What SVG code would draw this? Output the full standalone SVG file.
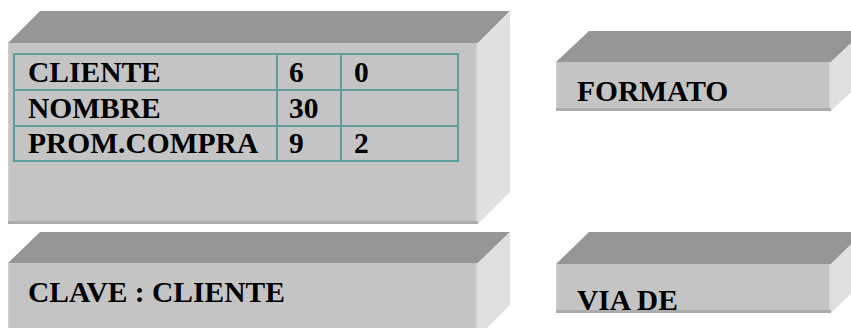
<svg xmlns="http://www.w3.org/2000/svg" width="851" height="328" viewBox="0 0 851 328">
<style>
.top{fill:#969696}
.front{fill:#c4c4c4}
.side{fill:#e0e0e0}
.hl{fill:#d8d8d8}
.sh{fill:#acacac}
.edge{fill:#cdcdcd}
.grid{fill:none;stroke:#5f9c9c;stroke-width:2}
.t{font-family:"Liberation Serif","Times New Roman",serif;font-weight:bold;font-size:29.5px;fill:#000}
</style>
<rect width="851" height="328" fill="#ffffff"/>
<g id="box-tabla">
<polygon class="top" points="8,43 40,11 510,11 478,43"/>
<polygon class="side" points="478,43 510,11 510,192 478,224"/>
<rect class="front" x="8" y="43" width="470" height="181"/>
<rect class="edge" x="8" y="43" width="1.5" height="181"/>
<rect class="hl" x="476" y="43" width="2" height="181"/>
<rect class="sh" x="8" y="221" width="470" height="3"/>
<g id="tabla">
<rect class="grid" x="14" y="54" width="444" height="107"/>
<line class="grid" x1="14" y1="90" x2="458" y2="90"/>
<line class="grid" x1="14" y1="126" x2="458" y2="126"/>
<line class="grid" x1="277" y1="54" x2="277" y2="161"/>
<line class="grid" x1="341" y1="54" x2="341" y2="161"/>
<text class="t" x="28" y="82">CLIENTE</text>
<text class="t" x="289" y="82">6</text>
<text class="t" x="354" y="82">0</text>
<text class="t" x="28" y="118">NOMBRE</text>
<text class="t" x="289" y="118">30</text>
<text class="t" x="28" y="153">PROM.COMPRA</text>
<text class="t" x="289" y="153">9</text>
<text class="t" x="354" y="153">2</text>
</g>
</g>
<g id="box-formato">
<polygon class="top" points="556,62 589,31 864,31 831,62"/>
<polygon class="side" points="831,62 864,31 864,80 831,111"/>
<rect class="front" x="556" y="62" width="275" height="49"/>
<rect class="edge" x="556" y="62" width="1.5" height="49"/>
<rect class="hl" x="829" y="62" width="2" height="49"/>
<rect class="sh" x="556" y="108" width="275" height="3"/>
<text class="t" x="577" y="101">FORMATO</text>
</g>
<g id="box-clave">
<polygon class="top" points="8,263 40,232 510,232 478,263"/>
<polygon class="side" points="478,263 510,232 510,305 478,337"/>
<rect class="front" x="8" y="263" width="470" height="80"/>
<rect class="edge" x="8" y="263" width="1.5" height="80"/>
<rect class="hl" x="476" y="263" width="2" height="80"/>
<text class="t" x="28" y="302">CLAVE : CLIENTE</text>
</g>
<g id="box-via">
<polygon class="top" points="556,264 589,232 864,232 831,264"/>
<polygon class="side" points="831,264 864,232 864,281 831,313"/>
<rect class="front" x="556" y="264" width="275" height="49"/>
<rect class="edge" x="556" y="264" width="1.5" height="49"/>
<rect class="hl" x="829" y="264" width="2" height="49"/>
<rect class="sh" x="556" y="310" width="275" height="3"/>
<text class="t" x="577" y="310">VIA DE</text>
</g>
</svg>
